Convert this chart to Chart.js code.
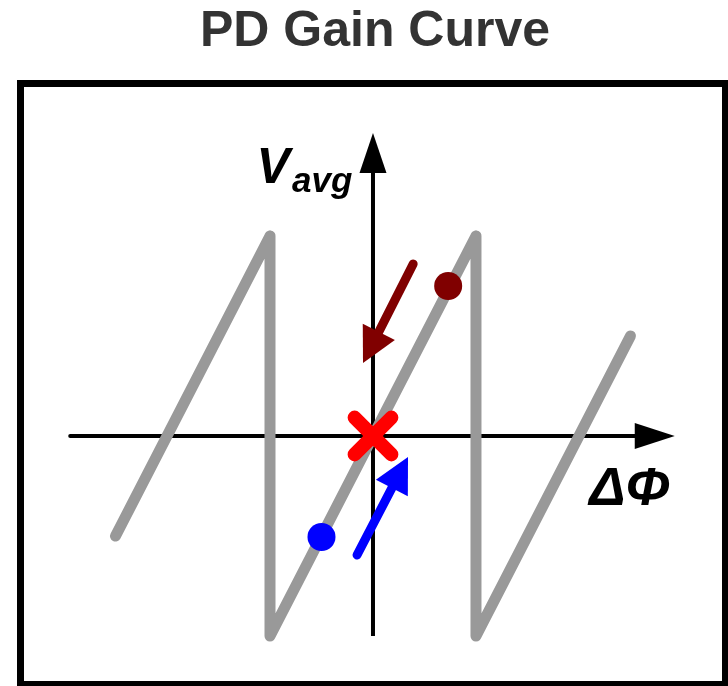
<!DOCTYPE html>
<html>
<head>
<meta charset="utf-8">
<script src="https://cdn.jsdelivr.net/npm/chart.js@4"></script>
<style>
  body { margin: 0; background: #fff; }
  canvas { display: block; }
</style>
</head>
<body>
<canvas id="pdChart" width="728" height="686"></canvas>
<script>
// sawtooth gain curve (x = phase error in units of pi, y = normalised Vavg)
const curveX = [-2.5, -1, -1, 1, 1, 2.5];
const curveY = [-0.5, 1, -1, 1, -1, 0.5];

// axes: tail and arrow tip
const axisXRange = [-2.94, 2.93];
const axisYRange = [-1.0, 1.515];

// lock point and the two states
const lockPoint = [0, 0];
const upperState = [0.73, 0.75];
const lowerState = [-0.5, -0.505];

// arrows: start and tip
const redArrow = [[0.39, 0.86], [-0.097, 0.365]];
const blueArrow = [[-0.155, -0.595], [0.34, -0.105]];

// text labels: anchor positions
const vLabelPos = [-1.13, 1.265];
const phiLabelPos = [2.1, -0.345];

const neck = (a, f) => ({ x: a[0][0] + f * (a[1][0] - a[0][0]), y: a[0][1] + f * (a[1][1] - a[0][1]) });

function head(ctx, fx, fy, tx, ty, len, half, color) {
    const ang = Math.atan2(ty - fy, tx - fx);
    ctx.save();
    ctx.translate(tx, ty);
    ctx.rotate(ang);
    ctx.beginPath();
    ctx.moveTo(0, 0);
    ctx.lineTo(-len, -half);
    ctx.lineTo(-len, half);
    ctx.closePath();
    ctx.fillStyle = color;
    ctx.fill();
    ctx.restore();
}

const overlay = {
    id: "overlay",
    beforeDatasetsDraw(chart) {
        const { ctx, chartArea: a } = chart;
        // frame box
        ctx.save();
        ctx.strokeStyle = "#000";
        ctx.lineWidth = 7;
        ctx.strokeRect(20.5, a.top + 3.5, 705, 601);
        ctx.restore();
        ctx.lineCap = "round";
        ctx.lineJoin = "round";
    },
    afterDatasetsDraw(chart) {
        const { ctx } = chart;
        const sx = chart.scales.x, sy = chart.scales.y;
        const px = v => sx.getPixelForValue(v), py = v => sy.getPixelForValue(v);

        // axis arrowheads
        head(ctx, px(0), py(0), px(axisXRange[1]), py(0), 40, 13, "#000");
        head(ctx, px(0), py(0), px(0), py(axisYRange[1]), 40, 13.5, "#000");

        // state arrows
        head(ctx, px(redArrow[0][0]), py(redArrow[0][1]), px(redArrow[1][0]), py(redArrow[1][1]), 35, 18, "#800000");
        head(ctx, px(blueArrow[0][0]), py(blueArrow[0][1]), px(blueArrow[1][0]), py(blueArrow[1][1]), 35, 18, "#0000ff");

        // labels
        ctx.save();
        ctx.fillStyle = "#000";
        ctx.textBaseline = "alphabetic";
        ctx.textAlign = "left";
        const vx = px(vLabelPos[0]), vy = py(vLabelPos[1]);
        ctx.font = 'italic bold 50px "Liberation Sans", Arial, sans-serif';
        ctx.fillText("V", vx, vy);
        const vw = ctx.measureText("V").width;
        ctx.font = 'italic bold 35px "Liberation Sans", Arial, sans-serif';
        ctx.fillText("avg", vx + vw + 2, vy + 9);
        ctx.font = 'italic bold 54px "Liberation Sans", Arial, sans-serif';
        ctx.fillText("ΔΦ", px(phiLabelPos[0]), py(phiLabelPos[1]));
        ctx.restore();
    }
};

const curvePoints = curveX.map((x, i) => ({ x: x, y: curveY[i] }));

new Chart(document.getElementById("pdChart"), {
    type: "scatter",
    data: {
        datasets: [
            {
                label: "lock",
                data: [{ x: lockPoint[0], y: lockPoint[1] }],
                pointStyle: "crossRot",
                pointRadius: 26,
                pointBorderWidth: 14,
                pointBorderColor: "#ff0000",
                order: 1
            },
            {
                label: "upper",
                data: [{ x: upperState[0], y: upperState[1] }],
                pointRadius: 14,
                pointBorderWidth: 0,
                pointBackgroundColor: "#800000",
                order: 2
            },
            {
                label: "lower",
                data: [{ x: lowerState[0], y: lowerState[1] }],
                pointRadius: 14,
                pointBorderWidth: 0,
                pointBackgroundColor: "#0000ff",
                order: 2
            },
            {
                label: "red arrow",
                data: [{ x: redArrow[0][0], y: redArrow[0][1] }, neck(redArrow, 0.8)],
                showLine: true,
                borderColor: "#800000",
                borderWidth: 9,
                borderCapStyle: "round",
                pointRadius: 0,
                order: 3
            },
            {
                label: "blue arrow",
                data: [{ x: blueArrow[0][0], y: blueArrow[0][1] }, neck(blueArrow, 0.8)],
                showLine: true,
                borderColor: "#0000ff",
                borderWidth: 9,
                borderCapStyle: "round",
                pointRadius: 0,
                order: 3
            },
            {
                label: "gain curve",
                data: curvePoints,
                showLine: true,
                borderColor: "#999999",
                borderWidth: 11,
                borderCapStyle: "round",
                borderJoinStyle: "round",
                pointRadius: 0,
                order: 4
            },
            {
                label: "x axis",
                data: [{ x: axisXRange[0], y: 0 }, { x: axisXRange[1] - 0.2, y: 0 }],
                showLine: true,
                borderColor: "#000",
                borderWidth: 4,
                borderCapStyle: "round",
                pointRadius: 0,
                order: 5
            },
            {
                label: "y axis",
                data: [{ x: 0, y: axisYRange[0] }, { x: 0, y: axisYRange[1] - 0.1 }],
                showLine: true,
                borderColor: "#000",
                borderWidth: 4,
                borderCapStyle: "butt",
                pointRadius: 0,
                order: 5
            }
        ]
    },
    options: {
        responsive: false,
        devicePixelRatio: 1,
        animation: false,
        events: [],
        layout: { padding: { left: 22, right: 0, top: 0, bottom: 0 }, autoPadding: false },
        scales: {
            x: { type: "linear", min: -3.408, max: 3.447, display: false },
            y: { type: "linear", min: -1.25, max: 1.78, display: false }
        },
        plugins: {
            legend: { display: false },
            tooltip: { enabled: false },
            title: {
                display: true,
                text: "PD Gain Curve",
                color: "#333333",
                font: { family: '"Liberation Sans", Arial, sans-serif', size: 50, weight: "bold", lineHeight: 1.2 },
                padding: { top: 2, bottom: 18 }
            }
        }
    },
    plugins: [overlay]
});
</script>
</body>
</html>
